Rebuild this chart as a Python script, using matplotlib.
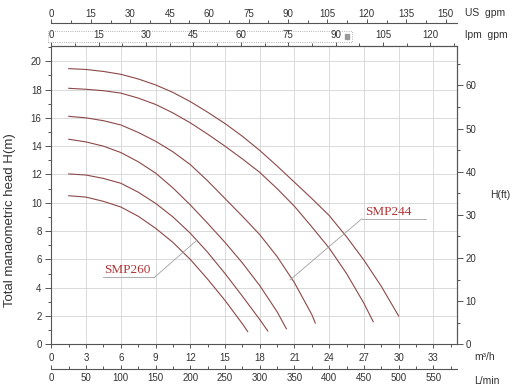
import numpy as np
import matplotlib
matplotlib.use("Agg")
import matplotlib.pyplot as plt
from matplotlib.ticker import MultipleLocator
from matplotlib.patches import Rectangle

plt.rcParams['font.family'] = ['Liberation Sans', 'DejaVu Sans']

# pump curves, flow in m3/h, head in m (top curve first)
q1 = [1.5, 3, 4.5, 6, 7.5, 9, 10.5, 12, 13.5, 15, 16.5, 18, 19.5, 21, 22.5, 24, 25.5, 27, 28.5, 30]
h1 = [19.48, 19.42, 19.28, 19.08, 18.75, 18.33, 17.8, 17.15, 16.4, 15.6, 14.7, 13.7, 12.6, 11.45, 10.3, 9.1, 7.6, 5.95, 4.1, 2.0]
q2 = [1.5, 3, 4.5, 6, 7.5, 9, 10.5, 12, 13.5, 15, 16.5, 18, 19.5, 21, 22.5, 24, 25.5, 27, 27.8]
h2 = [18.09, 18.02, 17.92, 17.75, 17.4, 16.95, 16.35, 15.65, 14.85, 14.0, 13.1, 12.15, 11.0, 9.75, 8.3, 6.8, 5.0, 2.9, 1.6]
q3 = [1.5, 3, 4.5, 6, 7.5, 9, 10.5, 12, 13.5, 15, 16.5, 18, 19.5, 21, 22.5, 22.8]
h3 = [16.11, 16.0, 15.8, 15.5, 14.97, 14.35, 13.6, 12.7, 11.55, 10.3, 9.05, 7.75, 6.2, 4.35, 2.1, 1.5]
q4 = [1.5, 3, 4.5, 6, 7.5, 9, 10.5, 12, 13.5, 15, 16.5, 18, 19.5, 20.3]
h4 = [14.49, 14.3, 14.0, 13.55, 12.9, 12.1, 11.05, 9.85, 8.55, 7.2, 5.75, 4.15, 2.3, 1.1]
q5 = [1.5, 3, 4.5, 6, 7.5, 9, 10.5, 12, 13.5, 15, 16.5, 18, 18.7]
h5 = [12.04, 11.96, 11.72, 11.38, 10.75, 9.96, 9.0, 7.85, 6.5, 5.0, 3.4, 1.75, 0.94]
q6 = [1.5, 3, 4.5, 6, 7.5, 9, 10.5, 12, 13.5, 15, 16.5, 16.96]
h6 = [10.5, 10.4, 10.1, 9.7, 9.05, 8.2, 7.2, 6.0, 4.6, 3.1, 1.45, 0.9]
curves = [(q1, h1), (q2, h2), (q3, h3), (q4, h4), (q5, h5), (q6, h6)]

# labels: text, underline, elbow and the point the leader runs to
labels = ['SMP260', 'SMP244']
label_line_x = [(4.46, 8.9), (26.8, 32.4)]
label_line_y = [4.73, 8.86]
label_elbow_x = [8.9, 26.8]
label_target = [(12.56, 7.35), (20.62, 4.55)]
label_text_x = [4.55, 27.1]

m3h_ticks = list(range(0, 34, 3))
head_m_ticks = list(range(0, 21, 2))
head_ft_ticks = list(range(0, 61, 10))
usgpm_ticks = list(range(0, 151, 15))
ukgpm_ticks = list(range(0, 121, 15))
lmin_ticks = list(range(0, 551, 50))

W, H = 515, 388
def fy(py):
    return 1 - py / H

fig = plt.figure(figsize=(W / 100, H / 100), dpi=100)
ax = fig.add_axes([51.4 / W, fy(344.3), (456.5 - 51.4) / W, (344.3 - 45.7) / H])
ax.set_xlim(0, 35)
ax.set_ylim(0, 21.1)

axcol = '#555555'
txtcol = '#333333'
for s in ax.spines.values():
    s.set_color(axcol)
    s.set_linewidth(0.8)

ax.set_xticks(m3h_ticks)
ax.xaxis.set_minor_locator(MultipleLocator(1.5))
ax.set_yticks(head_m_ticks)
ax.yaxis.set_minor_locator(MultipleLocator(1))
ax.grid(True, which='major', color='#d4d4d4', lw=0.6)
ax.set_axisbelow(True)
ax.tick_params(which='both', colors=axcol, labelcolor=txtcol, labelsize=7, width=0.7)
ax.tick_params(axis='x', which='major', length=3, pad=3.5)
ax.tick_params(axis='x', which='minor', length=2)
ax.tick_params(axis='y', which='major', length=4, pad=3)
ax.tick_params(axis='y', which='minor', length=2.5)

for q, h in curves:
    ax.plot(q, h, color='#8c4848', lw=0.8)

for i in range(len(labels)):
    ax.plot(label_line_x[i], [label_line_y[i]] * 2, color='#a0a0a0', lw=0.6)
    ax.plot([label_elbow_x[i], label_target[i][0]], [label_line_y[i], label_target[i][1]],
            color='#a0a0a0', lw=0.6)
    ax.text(label_text_x[i], label_line_y[i] + 0.1, labels[i], color='#b03535',
            fontsize=9.5, family='Liberation Serif', va='bottom', ha='left')

# secondary scales
top = (344.3 - 45.7)
us = ax.secondary_xaxis((344.3 - 23.3) / top, functions=(lambda x: x * 4.4029, lambda x: x / 4.4029))
uk = ax.secondary_xaxis('top', functions=(lambda x: x * 3.6661, lambda x: x / 3.6661))
lm = ax.secondary_xaxis(-(369.3 - 344.3) / top, functions=(lambda x: x * 16.6667, lambda x: x / 16.6667))
ft = ax.secondary_yaxis('right', functions=(lambda x: x * 3.2808, lambda x: x / 3.2808))

us.set_xticks(usgpm_ticks)
us.xaxis.set_minor_locator(MultipleLocator(7.5))
uk.set_xticks(ukgpm_ticks)
uk.xaxis.set_minor_locator(MultipleLocator(7.5))
lm.set_xticks(lmin_ticks)
lm.xaxis.set_minor_locator(MultipleLocator(25))
ft.set_yticks(head_ft_ticks)
ft.yaxis.set_minor_locator(MultipleLocator(5))

for sa in (us, uk, lm, ft):
    for s in sa.spines.values():
        s.set_color(axcol)
        s.set_linewidth(0.8)
    sa.tick_params(which='both', colors=axcol, labelcolor=txtcol, labelsize=7, width=0.7)
    sa.tick_params(which='major', length=3, pad=1.2)
    sa.tick_params(which='minor', length=2)
us.tick_params(which='major', pad=0)
lm.tick_params(which='both', direction='in', pad=3)
ft.tick_params(which='major', length=4.5, pad=2)

# dotted box on the lpm scale
fig.patches.append(Rectangle((48.3 / W, fy(41.7)), (351.7 - 48.3) / W, 11 / H,
                             transform=fig.transFigure, fill=False, ls=':', lw=0.6,
                             ec='#999999'))
fig.patches.append(Rectangle((344.5 / W, fy(38.7)), 4.5 / W, 4.7 / H,
                             transform=fig.transFigure, color='#999999'))

fig.text(465 / W, fy(13), 'US  gpm', fontsize=7.5, color=txtcol, va='center', ha='left')
fig.text(465 / W, fy(35.5), 'lpm  gpm', fontsize=7.5, color=txtcol, va='center', ha='left')
fig.text(474 / W, fy(357.5), 'm³/h', fontsize=7.5, color=txtcol, va='center', ha='left')
fig.text(474 / W, fy(380.5), 'L/min', fontsize=7.5, color=txtcol, va='center', ha='left')
fig.text(490 / W, fy(195), 'H(ft)', fontsize=7.5, color=txtcol, va='center', ha='left')
fig.text(10 / W, fy(220), 'Total manaometric head H(m)', fontsize=9.5, color=txtcol,
         rotation=90, va='center', ha='center')

fig.savefig('out.png', dpi=100)
